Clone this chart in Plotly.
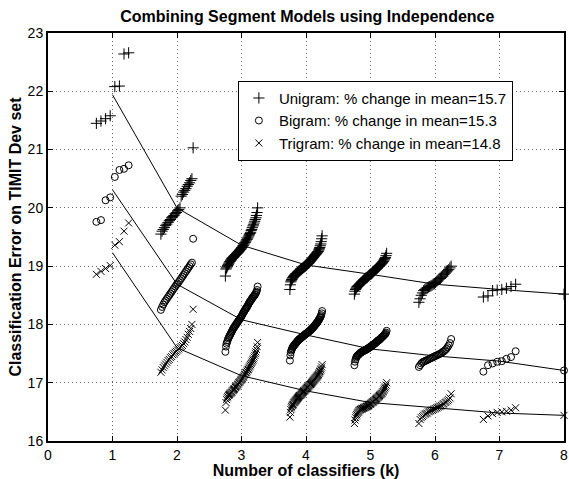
import numpy as np
import plotly.graph_objects as go

k_values = [1, 2, 3, 4, 5, 6, 7, 8]
x_ticks = [0, 1, 2, 3, 4, 5, 6, 7, 8]
y_ticks = [16, 17, 18, 19, 20, 21, 22, 23]

legend_names = [
    "Unigram: % change in mean=15.7",
    "Bigram: % change in mean=15.3",
    "Trigram: % change in mean=14.8",
]

# ---- Unigram: sorted classification errors of every k-combination ----
unigram_k1 = [21.45, 21.49, 21.53, 21.58, 22.08, 22.09, 22.64, 22.66]
unigram_k2 = [19.55, 19.60, 19.63, 19.66, 19.70, 19.72, 19.75, 19.78, 19.80, 19.83,
              19.85, 19.87, 19.90, 19.92, 19.95, 19.97, 20.00, 20.20, 20.23, 20.27,
              20.30, 20.33, 20.37, 20.40, 20.43, 20.47, 20.50, 21.03]
unigram_k3 = [18.83, 18.95, 18.97, 18.99, 19.01, 19.03, 19.05, 19.07, 19.08, 19.10,
              19.11, 19.13, 19.14, 19.15, 19.16, 19.17, 19.18, 19.19, 19.20, 19.21,
              19.22, 19.23, 19.24, 19.25, 19.27, 19.28, 19.29, 19.30, 19.32, 19.33,
              19.35, 19.36, 19.38, 19.40, 19.41, 19.43, 19.45, 19.46, 19.48, 19.50,
              19.52, 19.54, 19.56, 19.58, 19.61, 19.63, 19.66, 19.69, 19.71, 19.74,
              19.77, 19.80, 19.83, 19.87, 19.92, 20.00]
unigram_k4 = [18.60, 18.68, 18.73, 18.75, 18.77, 18.78, 18.80, 18.81, 18.82, 18.83,
              18.84, 18.85, 18.86, 18.87, 18.87, 18.88, 18.89, 18.90, 18.90, 18.91,
              18.92, 18.92, 18.93, 18.94, 18.94, 18.95, 18.96, 18.96, 18.97, 18.98,
              18.98, 18.99, 19.00, 19.00, 19.01, 19.02, 19.02, 19.03, 19.04, 19.05,
              19.05, 19.06, 19.07, 19.08, 19.09, 19.10, 19.11, 19.12, 19.13, 19.14,
              19.15, 19.16, 19.17, 19.18, 19.19, 19.20, 19.21, 19.22, 19.23, 19.24,
              19.25, 19.26, 19.28, 19.30, 19.32, 19.35, 19.38, 19.42, 19.47, 19.52]
unigram_k5 = [18.52, 18.57, 18.60, 18.62, 18.64, 18.65, 18.66, 18.67, 18.68, 18.69,
              18.70, 18.71, 18.72, 18.73, 18.74, 18.75, 18.76, 18.77, 18.78, 18.79,
              18.80, 18.80, 18.81, 18.82, 18.83, 18.84, 18.85, 18.86, 18.86, 18.87,
              18.88, 18.89, 18.90, 18.91, 18.92, 18.93, 18.94, 18.95, 18.96, 18.97,
              18.98, 18.99, 19.00, 19.01, 19.02, 19.03, 19.04, 19.05, 19.06, 19.08,
              19.09, 19.11, 19.13, 19.15, 19.18, 19.22]
unigram_k6 = [18.38, 18.44, 18.50, 18.54, 18.58, 18.60, 18.62, 18.63, 18.64, 18.65,
              18.66, 18.67, 18.69, 18.70, 18.72, 18.74, 18.76, 18.78, 18.79, 18.81,
              18.83, 18.86, 18.88, 18.90, 18.92, 18.94, 18.97, 19.00]
unigram_k7 = [18.47, 18.49, 18.58, 18.59, 18.60, 18.62, 18.65, 18.69]
unigram_k8 = [18.52]

# ---- Bigram ----
bigram_k1 = [19.76, 19.79, 20.13, 20.18, 20.53, 20.65, 20.67, 20.73]
bigram_k2 = [18.25, 18.30, 18.34, 18.38, 18.41, 18.44, 18.47, 18.50, 18.53, 18.56,
             18.59, 18.62, 18.65, 18.68, 18.70, 18.73, 18.76, 18.79, 18.82, 18.85,
             18.88, 18.91, 18.94, 18.97, 19.00, 19.03, 19.06, 19.47]
bigram_k3 = [17.53, 17.62, 17.67, 17.70, 17.73, 17.76, 17.78, 17.80, 17.82, 17.84,
             17.86, 17.88, 17.90, 17.92, 17.94, 17.95, 17.97, 17.98, 18.00, 18.01,
             18.03, 18.04, 18.06, 18.07, 18.09, 18.10, 18.12, 18.13, 18.15, 18.17,
             18.19, 18.21, 18.22, 18.24, 18.26, 18.27, 18.29, 18.30, 18.32, 18.34,
             18.36, 18.38, 18.39, 18.41, 18.42, 18.44, 18.45, 18.47, 18.48, 18.49,
             18.51, 18.52, 18.54, 18.56, 18.59, 18.65]
bigram_k4 = [17.38, 17.47, 17.52, 17.55, 17.57, 17.59, 17.61, 17.62, 17.63, 17.64,
             17.65, 17.66, 17.67, 17.68, 17.69, 17.70, 17.71, 17.72, 17.73, 17.74,
             17.74, 17.75, 17.76, 17.76, 17.77, 17.78, 17.78, 17.79, 17.80, 17.80,
             17.81, 17.82, 17.82, 17.83, 17.84, 17.84, 17.85, 17.85, 17.86, 17.87,
             17.87, 17.88, 17.89, 17.89, 17.90, 17.91, 17.92, 17.93, 17.93, 17.94,
             17.95, 17.96, 17.97, 17.98, 17.99, 18.00, 18.01, 18.02, 18.03, 18.04,
             18.05, 18.07, 18.08, 18.09, 18.11, 18.12, 18.14, 18.16, 18.19, 18.23]
bigram_k5 = [17.30, 17.36, 17.40, 17.43, 17.45, 17.46, 17.47, 17.48, 17.49, 17.50,
             17.51, 17.52, 17.52, 17.53, 17.54, 17.54, 17.55, 17.55, 17.56, 17.56,
             17.57, 17.57, 17.58, 17.59, 17.59, 17.60, 17.61, 17.61, 17.62, 17.63,
             17.64, 17.64, 17.65, 17.66, 17.67, 17.67, 17.68, 17.69, 17.70, 17.71,
             17.72, 17.73, 17.73, 17.74, 17.75, 17.76, 17.77, 17.78, 17.79, 17.80,
             17.81, 17.82, 17.83, 17.84, 17.86, 17.89]
bigram_k6 = [17.27, 17.30, 17.33, 17.35, 17.36, 17.37, 17.38, 17.39, 17.40, 17.41,
             17.42, 17.43, 17.44, 17.45, 17.46, 17.47, 17.48, 17.49, 17.50, 17.51,
             17.53, 17.54, 17.56, 17.58, 17.61, 17.64, 17.68, 17.75]
bigram_k7 = [17.19, 17.30, 17.33, 17.36, 17.37, 17.41, 17.44, 17.54]
bigram_k8 = [17.21]

# ---- Trigram ----
trigram_k1 = [18.86, 18.91, 18.96, 19.01, 19.36, 19.42, 19.60, 19.74]
trigram_k2 = [17.18, 17.22, 17.26, 17.29, 17.32, 17.35, 17.38, 17.40, 17.43, 17.45,
              17.48, 17.50, 17.52, 17.54, 17.56, 17.58, 17.60, 17.62, 17.64, 17.67,
              17.70, 17.74, 17.78, 17.83, 17.88, 17.93, 18.00, 18.26]
trigram_k3 = [16.53, 16.66, 16.71, 16.74, 16.76, 16.78, 16.79, 16.80, 16.81, 16.82,
              16.83, 16.84, 16.86, 16.87, 16.88, 16.89, 16.90, 16.92, 16.93, 16.94,
              16.95, 16.97, 16.98, 17.00, 17.01, 17.02, 17.04, 17.05, 17.06, 17.07,
              17.09, 17.10, 17.12, 17.14, 17.15, 17.17, 17.18, 17.20, 17.22, 17.23,
              17.25, 17.27, 17.29, 17.31, 17.33, 17.35, 17.37, 17.39, 17.41, 17.44,
              17.47, 17.50, 17.53, 17.57, 17.62, 17.69]
trigram_k4 = [16.41, 16.49, 16.54, 16.57, 16.59, 16.61, 16.62, 16.63, 16.65, 16.66,
              16.67, 16.68, 16.69, 16.70, 16.71, 16.72, 16.73, 16.74, 16.75, 16.76,
              16.77, 16.78, 16.78, 16.79, 16.80, 16.81, 16.82, 16.83, 16.84, 16.85,
              16.86, 16.86, 16.87, 16.88, 16.89, 16.90, 16.91, 16.92, 16.92, 16.93,
              16.94, 16.95, 16.96, 16.97, 16.97, 16.98, 16.99, 17.00, 17.01, 17.02,
              17.03, 17.04, 17.05, 17.06, 17.07, 17.08, 17.09, 17.10, 17.11, 17.12,
              17.13, 17.14, 17.16, 17.17, 17.19, 17.20, 17.22, 17.24, 17.27, 17.31]
trigram_k5 = [16.30, 16.36, 16.40, 16.43, 16.45, 16.47, 16.49, 16.50, 16.52, 16.53,
              16.54, 16.54, 16.55, 16.55, 16.56, 16.56, 16.57, 16.57, 16.58, 16.58,
              16.59, 16.59, 16.60, 16.60, 16.61, 16.62, 16.63, 16.63, 16.64, 16.65,
              16.66, 16.67, 16.67, 16.68, 16.69, 16.70, 16.71, 16.72, 16.73, 16.74,
              16.75, 16.76, 16.77, 16.78, 16.79, 16.80, 16.81, 16.82, 16.84, 16.85,
              16.87, 16.89, 16.91, 16.93, 16.96, 17.00]
trigram_k6 = [16.30, 16.37, 16.40, 16.42, 16.44, 16.46, 16.47, 16.48, 16.50, 16.51,
              16.52, 16.53, 16.54, 16.55, 16.56, 16.57, 16.58, 16.59, 16.60, 16.61,
              16.63, 16.64, 16.66, 16.67, 16.69, 16.71, 16.74, 16.81]
trigram_k7 = [16.37, 16.43, 16.47, 16.49, 16.50, 16.51, 16.53, 16.57]
trigram_k8 = [16.44]

# ---- Mean error per number of classifiers (the connecting curves) ----
unigram_mean = [21.94, 20.00, 19.36, 19.02, 18.86, 18.69, 18.60, 18.52]
bigram_mean = [20.31, 18.69, 18.08, 17.82, 17.58, 17.46, 17.37, 17.21]
trigram_mean = [19.23, 17.60, 17.12, 16.86, 16.66, 16.57, 16.48, 16.44]

unigram_sets = [unigram_k1, unigram_k2, unigram_k3, unigram_k4,
                unigram_k5, unigram_k6, unigram_k7, unigram_k8]
bigram_sets = [bigram_k1, bigram_k2, bigram_k3, bigram_k4,
               bigram_k5, bigram_k6, bigram_k7, bigram_k8]
trigram_sets = [trigram_k1, trigram_k2, trigram_k3, trigram_k4,
                trigram_k5, trigram_k6, trigram_k7, trigram_k8]

SPREAD = 0.25


def spread_points(sets):
    xs, ys = [], []
    for k, vals in zip(k_values, sets):
        n = len(vals)
        offs = np.linspace(-SPREAD, SPREAD, n) if n > 1 else np.array([0.0])
        xs.extend((k + offs).tolist())
        ys.extend(vals)
    return xs, ys


FONT = "Liberation Sans, Arial, Helvetica, sans-serif"
fig = go.Figure()

symbols = ["cross-thin-open", "circle-open", "x-thin-open"]
sizes = [8, 7, 7]
all_sets = [unigram_sets, bigram_sets, trigram_sets]
all_means = [unigram_mean, bigram_mean, trigram_mean]

for name, sets, sym, sz in zip(legend_names, all_sets, symbols, sizes):
    xs, ys = spread_points(sets)
    fig.add_trace(go.Scatter(
        x=xs, y=ys, mode="markers", name=name,
        marker=dict(symbol=sym, size=sz, color="black",
                    line=dict(color="black", width=1)),
        cliponaxis=False,
    ))

for means in all_means:
    fig.add_trace(go.Scatter(
        x=k_values, y=means, mode="lines", showlegend=False,
        line=dict(color="black", width=1),
    ))

axis_common = dict(
    showline=True, linecolor="black", linewidth=2, mirror="ticks",
    ticks="inside", ticklen=5, tickcolor="black", tickwidth=1,
    showgrid=True, gridcolor="#666666", griddash="1px,3px", gridwidth=1,
    zeroline=False, automargin=False,
    tickfont=dict(family=FONT, size=14, color="black"),
)

fig.update_xaxes(
    range=[0, 8], tickvals=x_ticks,
    title=dict(text="<b>Number of classifiers (k)</b>", standoff=7,
               font=dict(family=FONT, size=16, color="black")),
    **axis_common,
)
fig.update_yaxes(
    range=[16, 23], tickvals=y_ticks,
    title=dict(text="<b>Classification Error on TIMIT Dev set</b>", standoff=2,
               font=dict(family=FONT, size=16, color="black")),
    **axis_common,
)

fig.update_layout(
    width=569, height=479,
    margin=dict(l=48, r=5, t=33, b=38),
    paper_bgcolor="white", plot_bgcolor="white",
    font=dict(family=FONT, size=15, color="black"),
    title=dict(text="<b>Combining Segment Models using Independence</b>",
               x=0.54, xanchor="center", y=0.966, yanchor="middle",
               font=dict(family=FONT, size=16, color="black")),
    legend=dict(
        x=0.368, y=0.883, xanchor="left", yanchor="top",
        bgcolor="white", bordercolor="black", borderwidth=1,
        font=dict(family=FONT, size=15, color="black"),
        tracegroupgap=0, itemwidth=30,
    ),
    showlegend=True,
)

# Remove the default page margin so the 569x479 figure fills the window.
fig.write_html(
    "out.html",
    config={"displayModeBar": False},
    post_script="document.body.style.margin='0';document.body.style.overflow='hidden';",
)
